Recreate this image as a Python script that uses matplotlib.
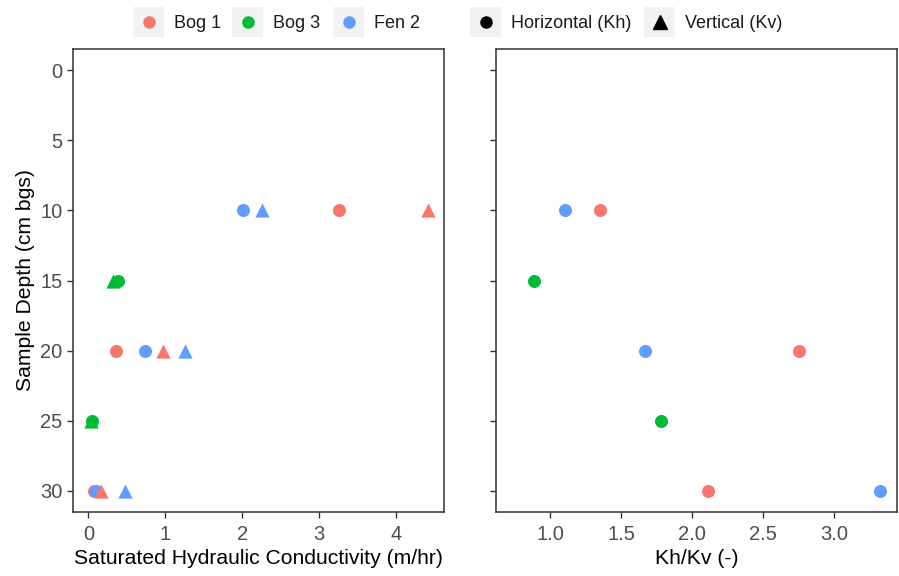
import matplotlib.pyplot as plt
from matplotlib.patches import Rectangle
from matplotlib.lines import Line2D

plt.rcParams['font.family'] = ['Liberation Sans', 'DejaVu Sans']

sites = ['Bog 1', 'Bog 3', 'Fen 2']
site_colors = ['#F8766D', '#00BA38', '#619CFF']

depth = {'Bog 1': [10, 20, 30], 'Bog 3': [15, 25], 'Fen 2': [10, 20, 30]}
kh = {'Bog 1': [3.26, 0.36, 0.07], 'Bog 3': [0.39, 0.05], 'Fen 2': [2.01, 0.74, 0.10]}
kv = {'Bog 1': [4.41, 0.97, 0.17], 'Bog 3': [0.32, 0.04], 'Fen 2': [2.25, 1.25, 0.47]}
ratio = {'Bog 1': [1.35, 2.75, 2.11], 'Bog 3': [0.89, 1.78], 'Fen 2': [1.105, 1.67, 3.32]}

W, H = 899, 576
fig = plt.figure(figsize=(W / 100, H / 100), dpi=100)
ax1 = fig.add_axes([73 / W, 1 - 512 / H, 371 / W, 463 / H])
ax2 = fig.add_axes([496 / W, 1 - 512 / H, 401 / W, 463 / H])

for s, col in zip(sites, site_colors):
    ax1.scatter(kh[s], depth[s], s=88, marker='o', color=col, linewidths=0, zorder=3)
for s, col in zip(sites, site_colors):
    ax1.scatter(kv[s], depth[s], s=105, marker='^', color=col, linewidths=0, zorder=3)
for s, col in zip(sites, site_colors):
    ax2.scatter(ratio[s], depth[s], s=88, marker='o', color=col, linewidths=0, zorder=3)

for ax in (ax1, ax2):
    ax.set_ylim(31.5, -1.5)
    ax.set_yticks([0, 5, 10, 15, 20, 25, 30])
    for sp in ax.spines.values():
        sp.set_color('#333333')
        sp.set_linewidth(1.1)
    ax.tick_params(direction='out', length=4, width=1, color='#333333',
                   labelcolor='#4D4D4D', labelsize=14.5)
    ax.tick_params(axis='x', pad=5)

ax1.set_xlim(-0.2, 4.62)
ax1.set_xticks([0, 1, 2, 3, 4])
ax2.set_xlim(0.62, 3.44)
ax2.set_xticks([1.0, 1.5, 2.0, 2.5, 3.0])
ax2.tick_params(labelleft=False)

ax1.set_xlabel('Saturated Hydraulic Conductivity (m/hr)', fontsize=15.2, labelpad=4)
ax1.set_ylabel('Sample Depth (cm bgs)', fontsize=15.2, labelpad=4)
ax2.set_xlabel('Kh/Kv (-)', fontsize=15.2, labelpad=4)

# legend drawn by hand: grey key boxes like ggplot
key_x = [133, 232, 333, 470, 644]
key_labels = sites + ['Horizontal (Kh)', 'Vertical (Kv)']
key_colors = site_colors + ['black', 'black']
key_markers = ['o', 'o', 'o', 'o', '^']
for x0, lab, col, m in zip(key_x, key_labels, key_colors, key_markers):
    fig.add_artist(Rectangle((x0 / W, 1 - 37 / H), 31 / W, 30 / H,
                             transform=fig.transFigure, facecolor='#F2F2F2', edgecolor='none'))
    fig.add_artist(Line2D([(x0 + 15.5) / W], [1 - 22 / H], marker=m, color=col,
                          markersize=8 if m == 'o' else 9.5, linestyle='none',
                          transform=fig.transFigure))
    fig.text((x0 + 41) / W, 1 - 24 / H, lab, fontsize=13, color='#1A1A1A',
             va='center', ha='left')

fig.savefig('out.png', dpi=100)
